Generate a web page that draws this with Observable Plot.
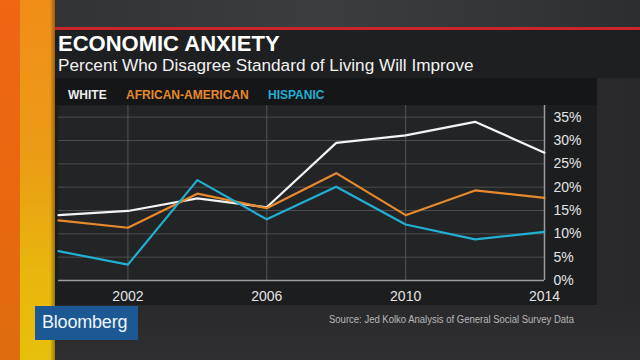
<!DOCTYPE html>
<html>
<head>
<meta charset="utf-8">
<script src="https://cdn.jsdelivr.net/npm/d3@7"></script>
<script src="https://cdn.jsdelivr.net/npm/@observablehq/plot@0.6"></script>
<style>
  html, body { margin: 0; padding: 0; }
  body { width: 640px; height: 360px; overflow: hidden; font-family: "Liberation Sans", Arial, sans-serif; }
  #stage { position: relative; width: 640px; height: 360px; overflow: hidden;
    background: linear-gradient(90deg, #262729 0%, #2e2f31 45%, #2a2b2d 75%, #29292b 100%); }
  .abs { position: absolute; white-space: nowrap; }
  #topband { left: 0; top: 0; width: 640px; height: 28px;
    background: linear-gradient(90deg, #303133 0%, #3c3d3e 50%, #343536 80%, #2c2d2f 100%); }
  #redline { left: 55px; top: 27px; width: 585px; height: 3px; background: #c8262a; }
  #titlepanel { left: 55px; top: 30px; width: 585px; height: 48px; background: #1e1f21; }
  #chartpanel { left: 55px; top: 78px; width: 542px; height: 227px; background: #1c1d1f; }
  #legendstrip { left: 55px; top: 78px; width: 542px; height: 27px; background: #151618; }
  #bottom { left: 55px; top: 305px; width: 585px; height: 55px;
    background: linear-gradient(180deg, #2a2a2c 0%, #2f2f31 100%); }
  #stripe1 { left: 0; top: 0; width: 20px; height: 360px;
    background: linear-gradient(180deg, #ef6614 0%, #e8680f 60%, #dd6d0e 100%); }
  #stripe2 { left: 20px; top: 0; width: 35px; height: 360px;
    background: linear-gradient(180deg, #f08d1a 0%, #eb9d15 45%, #e8b60c 75%, #e6c00a 100%); }
  #stripe2edge { left: 50px; top: 0; width: 5px; height: 360px;
    background: linear-gradient(90deg, rgba(0,0,0,0) 0%, rgba(0,0,0,0.35) 100%); }
  #title { left: 58px; top: 33px; font-size: 22px; line-height: 22px; font-weight: 700; color: #ffffff; }
  #subtitle { left: 58px; top: 56.5px; font-size: 17.2px; line-height: 17px; color: #f2f2f2; }
  .leg { top: 89px; font-size: 12px; line-height: 12px; font-weight: 700; }
  #logo { left: 35px; top: 306px; width: 103px; height: 34px; background: #1b5894; }
  #logotext { left: 42px; top: 313px; font-size: 18px; line-height: 18px; color: #eef3f8; letter-spacing: -0.2px; }
  #source { left: 329px; top: 314.5px; font-size: 10px; line-height: 10px; color: #b8b8b8; transform: scaleX(0.95); transform-origin: 0 0; }
  #plot { left: 0; top: 78px; }
</style>
</head>
<body>
<div id="stage">
  <div class="abs" id="topband"></div>
  <div class="abs" id="titlepanel"></div>
  <div class="abs" id="redline"></div>
  <div class="abs" id="bottom"></div>
  <div class="abs" id="chartpanel"></div>
  <div class="abs" id="legendstrip"></div>
  <div class="abs" id="plot"></div>
  <div class="abs" id="stripe1"></div>
  <div class="abs" id="stripe2"></div>
  <div class="abs" id="stripe2edge"></div>
  <div class="abs" id="title">ECONOMIC ANXIETY</div>
  <div class="abs" id="subtitle">Percent Who Disagree Standard of Living Will Improve</div>
  <div id="legend"></div>
  <div class="abs" id="logo"></div>
  <div class="abs" id="logotext">Bloomberg</div>
  <div class="abs" id="source">Source: Jed Kolko Analysis of General Social Survey Data</div>
</div>
<script>
// ---- data ----
const years = [2000, 2002, 2004, 2006, 2008, 2010, 2012, 2014];
const white = [14.0, 14.9, 17.6, 15.7, 29.5, 31.1, 34.0, 27.4];
const africanAmerican = [12.9, 11.3, 18.6, 15.5, 23.0, 14.0, 19.3, 17.7];
const hispanic = [6.3, 3.4, 21.5, 13.1, 20.1, 12.0, 8.8, 10.4];
const seriesNames = ["WHITE", "AFRICAN-AMERICAN", "HISPANIC"];
const seriesColors = ["#f4f4f4", "#e8892c", "#21afd2"];
const yTicks = [0, 5, 10, 15, 20, 25, 30, 35];
const xTicks = [2002, 2006, 2010, 2014];
const xGrid = [2002, 2006, 2010];

const seriesValues = [white, africanAmerican, hispanic];
const rows = [];
seriesNames.forEach((name, i) => {
  years.forEach((yr, j) => rows.push({ series: name, year: yr, value: seriesValues[i][j] }));
});

// legend
const legendX = [68, 126, 268];
const legend = document.getElementById("legend");
seriesNames.forEach((name, i) => {
  const s = document.createElement("div");
  s.className = "abs leg";
  s.style.left = legendX[i] + "px";
  s.style.color = i === 0 ? "#eeeeee" : seriesColors[i];
  s.textContent = name;
  legend.appendChild(s);
});

const chart = Plot.plot({
  width: 640,
  height: 232,
  marginLeft: 58,
  marginRight: 96,
  marginTop: 27,
  marginBottom: 30,
  style: { background: "transparent", fontFamily: "'Liberation Sans', Arial, sans-serif", overflow: "visible" },
  x: { domain: [2000, 2014] },
  y: { domain: [0, 37.5] },
  color: { domain: seriesNames, range: seriesColors },
  marks: [
    Plot.frame({ fill: "#232426", stroke: "none" }),
    Plot.gridY(yTicks, { stroke: "#4b4c4e", strokeOpacity: 1, strokeWidth: 1 }),
    Plot.gridX(xGrid, { stroke: "#55565a", strokeOpacity: 1, strokeWidth: 1 }),
    Plot.ruleY([0], { stroke: "#9c9c9e", strokeWidth: 1.5 }),
    Plot.ruleX([2014], { stroke: "#9c9c9e", strokeWidth: 1.5 }),
    Plot.line(rows, { x: "year", y: "value", z: "series", stroke: "series", strokeWidth: 2.2, curve: "linear" }),
    Plot.axisY(yTicks, { anchor: "right", tickSize: 0, tickPadding: 9, tickFormat: d => d + "%", fontSize: 14, fill: "#e4e4e4", label: null }),
    Plot.axisX(xTicks, { anchor: "bottom", tickSize: 0, tickPadding: 11, tickFormat: d => String(d), fontSize: 14, fill: "#e4e4e4", label: null })
  ]
});
document.getElementById("plot").appendChild(chart);
</script>
</body>
</html>
